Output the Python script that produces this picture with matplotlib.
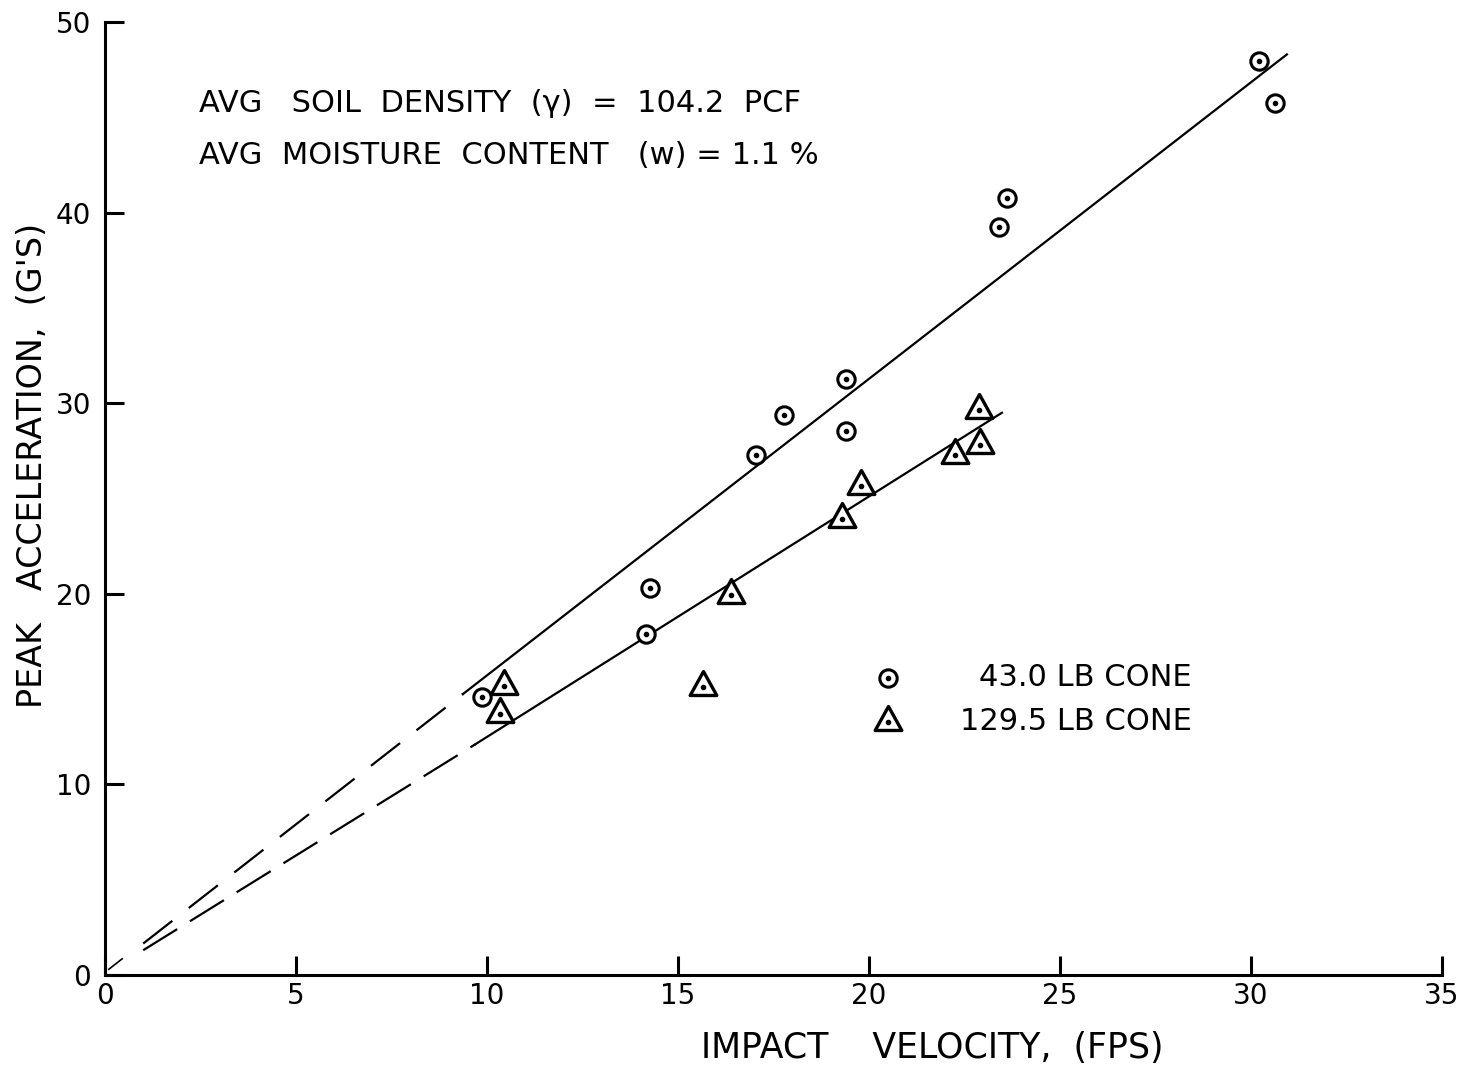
import matplotlib
matplotlib.use("Agg")
import matplotlib.pyplot as plt
from matplotlib.path import Path

plt.rcParams['font.family'] = ['DejaVu Sans']
plt.rcParams['lines.scale_dashes'] = False

# ---- data ----
cone43_x = [9.87, 14.16, 14.27, 17.04, 17.77, 19.4, 19.4, 23.4, 23.61, 30.2, 30.63]
cone43_y = [14.6, 17.9, 20.3, 27.28, 29.38, 31.27, 28.54, 39.24, 40.77, 47.95, 45.75]

cone129_x = [10.45, 10.34, 15.65, 16.39, 19.3, 19.79, 22.25, 22.9, 22.88]
cone129_y = [15.16, 13.7, 15.1, 19.94, 23.9, 25.66, 27.3, 27.8, 29.64]

upper_solid_x = [9.37, 30.94]
upper_solid_y = [14.74, 48.3]
upper_dash_x = [1.0, 9.37]
upper_dash_y = [1.65, 14.74]

lower_solid_x = [9.69, 23.48]
lower_solid_y = [12.1, 29.5]
lower_dash_x = [1.0, 9.69]
lower_dash_y = [1.3, 12.1]

origin_stub_x = [0.1, 0.45]
origin_stub_y = [0.3, 0.85]

x_ticks = [0, 5, 10, 15, 20, 25, 30, 35]
y_ticks = [0, 10, 20, 30, 40, 50]

legend_labels = ["43.0 LB CONE", "129.5 LB CONE"]
legend_x = [20.5, 20.5]
legend_y = [15.6, 13.3]

note_lines = ["AVG   SOIL  DENSITY  (\u03b3)  =  104.2  PCF",
              "AVG  MOISTURE  CONTENT   (w) = 1.1 %"]

# ---- figure ----
fig = plt.figure(figsize=(14.57, 10.68), dpi=100)
ax = fig.add_axes([105/1457, 1-975/1068, (1442-105)/1457, (975-22)/1068])
ax.set_xlim(0, 35)
ax.set_ylim(0, 50)

for s in ['top', 'right']:
    ax.spines[s].set_visible(False)
for s in ['left', 'bottom']:
    ax.spines[s].set_linewidth(2.2)

ax.set_xticks(x_ticks)
ax.set_yticks(y_ticks)
ax.tick_params(axis='both', direction='in', length=14, width=2.2, labelsize=20)
ax.tick_params(axis='x', pad=5)
ax.tick_params(axis='y', pad=10)

lw = 1.6
ax.plot(upper_solid_x, upper_solid_y, color='black', lw=lw)
ax.plot(lower_solid_x, lower_solid_y, color='black', lw=lw)
ax.plot(upper_dash_x, upper_dash_y, color='black', lw=lw, dashes=(26.6, 15))
ax.plot(lower_dash_x, lower_dash_y, color='black', lw=lw, dashes=(28.8, 10.8))
ax.plot(origin_stub_x, origin_stub_y, color='black', lw=1.2)

tri = Path([(-1.0, -0.6), (1.0, -0.6), (0.0, 1.2), (-1.0, -0.6)],
           [Path.MOVETO, Path.LINETO, Path.LINETO, Path.CLOSEPOLY])

ax.plot(cone43_x, cone43_y, linestyle='none', marker='o', ms=12.5,
        mfc='white', mec='black', mew=2.2, zorder=3)
ax.plot(cone43_x, cone43_y, linestyle='none', marker='o', ms=3,
        mfc='black', mec='black', zorder=4)
ax.plot(cone129_x, cone129_y, linestyle='none', marker=tri, ms=23,
        mfc='white', mec='black', mew=2.4, zorder=3)
ax.plot(cone129_x, cone129_y, linestyle='none', marker='o', ms=3,
        mfc='black', mec='black', zorder=4)

# legend
ax.plot(legend_x[0], legend_y[0], marker='o', ms=12.5, mfc='white', mec='black', mew=2.2)
ax.plot(legend_x[0], legend_y[0], marker='o', ms=3, color='black')
ax.plot(legend_x[1], legend_y[1], marker=tri, ms=23, mfc='white', mec='black', mew=2.4)
ax.plot(legend_x[1], legend_y[1], marker='o', ms=3, color='black')
for lab, yy in zip(legend_labels, legend_y):
    ax.text(28.45, yy, lab, ha='right', va='center', fontsize=22)

# notes
ax.text(2.45, 45.75, note_lines[0], ha='left', va='center', fontsize=22)
ax.text(2.45, 43.0, note_lines[1], ha='left', va='center', fontsize=22)

# axis labels
fig.text(932/1457, 1-1048/1068, "IMPACT    VELOCITY,  (FPS)", ha='center', va='center', fontsize=25)
fig.text(33/1457, 1-465/1068, "PEAK   ACCELERATION,  (G'S)", ha='center', va='center',
         rotation=90, fontsize=24)

fig.savefig("out.png", dpi=100, facecolor='white')
